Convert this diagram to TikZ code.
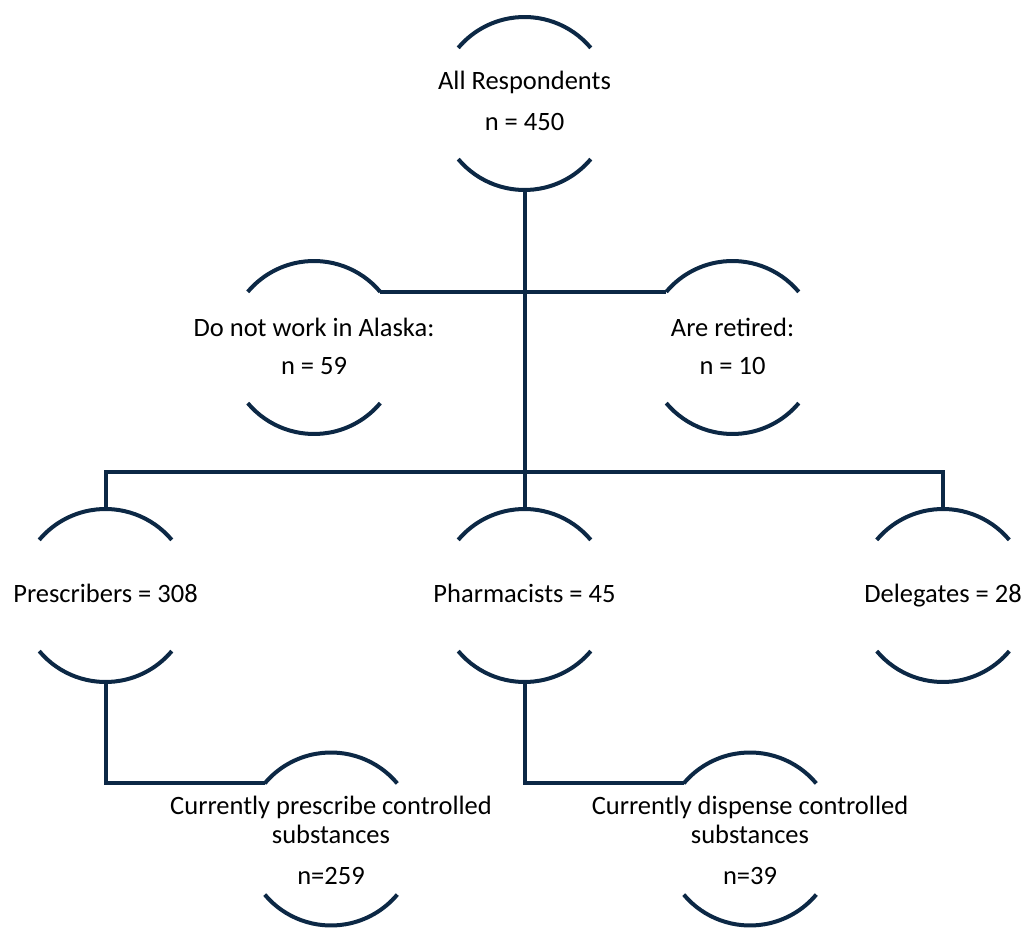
\documentclass[tikz,border=0pt]{standalone}
\usepackage{fontspec}
\setmainfont{Carlito}
\definecolor{navy}{RGB}{12,40,69}
\newcommand\ntext[2]{\smash{\makebox[0pt]{\raisebox{#1}{\begin{tabular}[b]{@{}c@{}}#2\end{tabular}}}}}
\begin{document}
\begin{tikzpicture}[x=1pt,y=1pt,
  bubble/.style={circle,minimum size=173pt,inner sep=0pt,outer sep=0pt,
    font=\fontsize{26.5}{29}\selectfont,text=black},
  link/.style={draw=navy,line width=4pt},
  arcline/.style={draw=navy,line width=4pt}]
\useasboundingbox (0,0) rectangle (1025,927);
\node[bubble] (all)   at (524.5,823.5) {\ntext{-27.2pt}{All Respondents\\[12pt] n = 450}};
\node[bubble] (dnw)   at (314,579.5)   {\ntext{-27.5pt}{Do not work in Alaska:\\[9pt] n = 59}};
\node[bubble] (ret)   at (732.5,579.5) {\ntext{-27.5pt}{Are retired:\\[9pt] n = 10}};
\node[bubble] (pres)  at (105.5,331.5) {\ntext{-6.8pt}{Prescribers = 308}};
\node[bubble] (pharm) at (524.5,331.5) {\ntext{-6.8pt}{Pharmacists = 45}};
\node[bubble] (deleg) at (943,331.5)   {\ntext{-6.8pt}{Delegates = 28}};
\node[bubble] (cps)   at (331,88)      {\ntext{-45pt}{Currently prescribe controlled\\ substances\\[12pt] n=259}};
\node[bubble] (cds)   at (750,88)      {\ntext{-45pt}{Currently dispense controlled\\ substances\\[12pt] n=39}};
\foreach \n in {all,dnw,ret,pres,pharm,deleg,cps,cds}{
  \draw[arcline] (\n.40) arc[start angle=40,end angle=140,radius=86.5pt];
  \draw[arcline] (\n.220) arc[start angle=220,end angle=320,radius=86.5pt];
}
\coordinate (bar) at (524.5,455);
\draw[link] (all.south) -- (pharm.north);
\draw[link] (dnw.40) -- (ret.140);
\draw[link] (pres.north) |- (bar) -| (deleg.north);
\draw[link] (pres.south) |- (cps.140);
\draw[link] (pharm.south) |- (cds.140);
\end{tikzpicture}
\end{document}
